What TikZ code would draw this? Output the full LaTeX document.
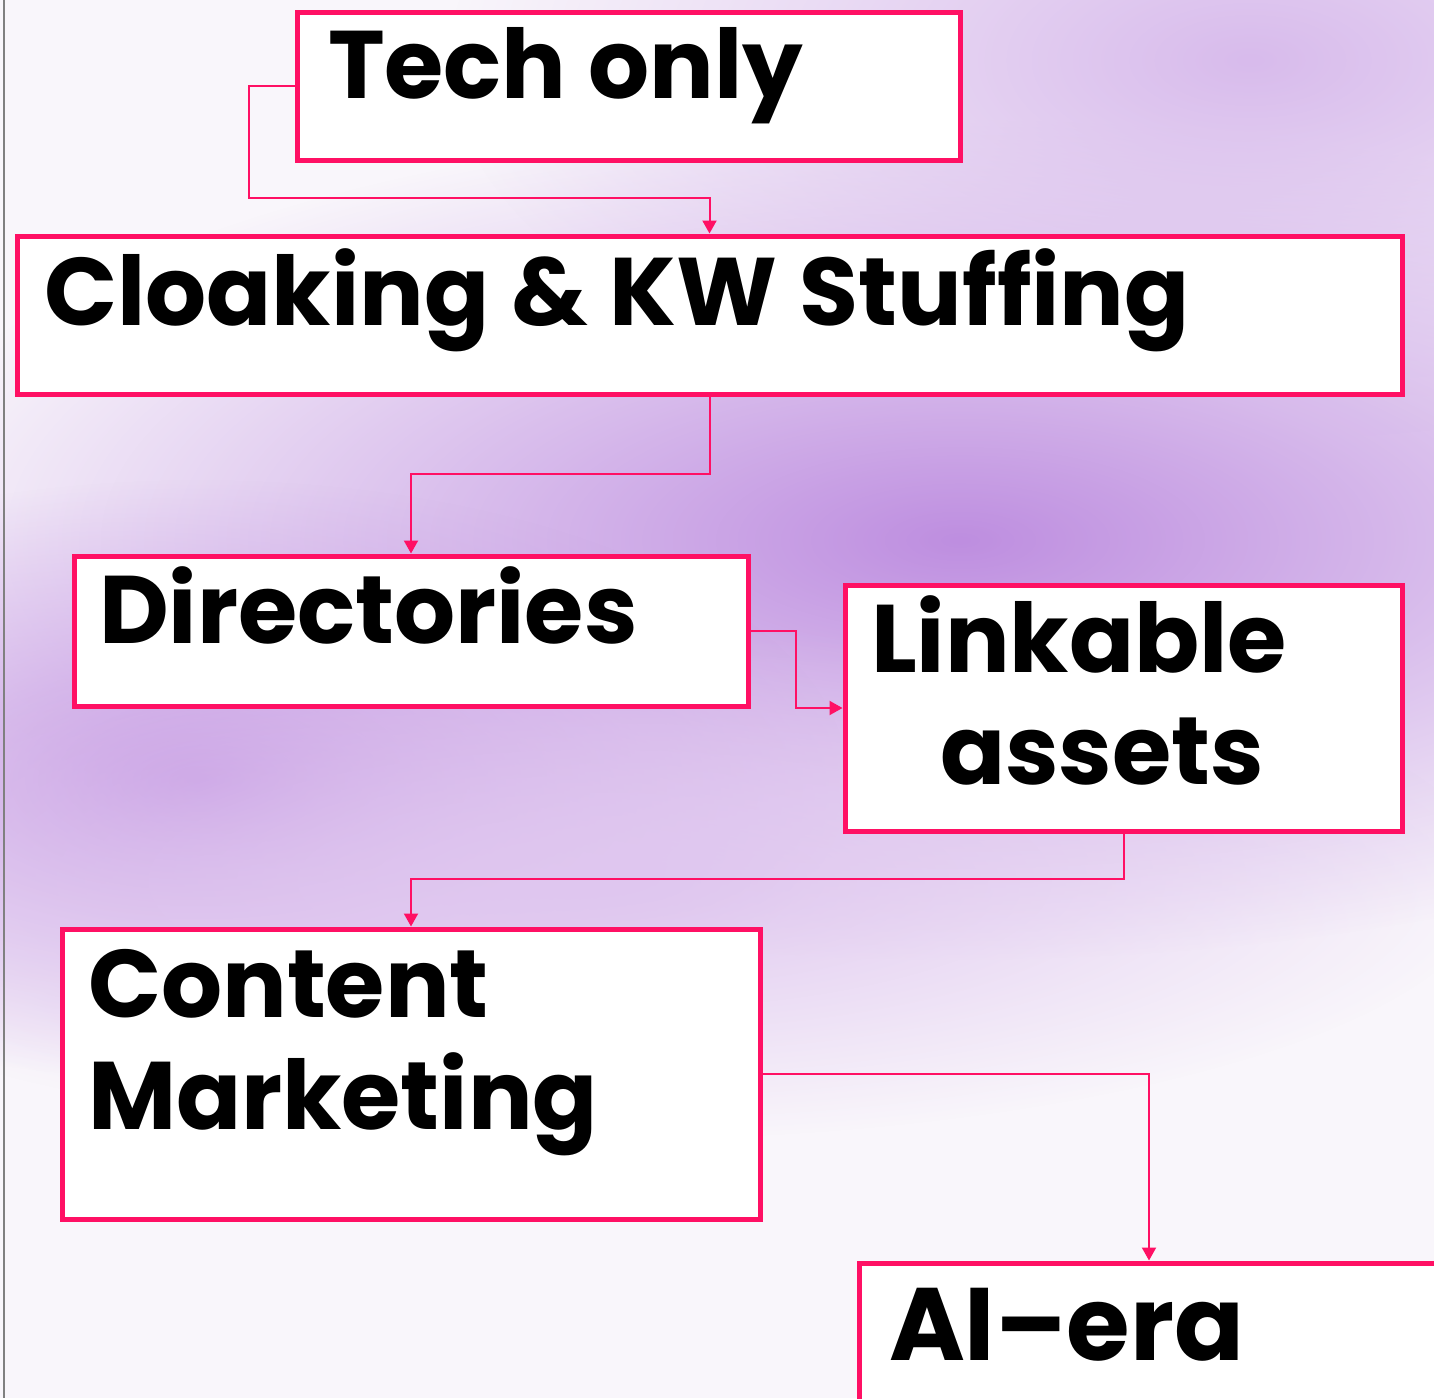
\documentclass[tikz,border=0pt]{standalone}
\usepackage{fontspec}
\setmainfont{Poppins}
\usetikzlibrary{arrows.meta,fadings}

\definecolor{stagepink}{RGB}{255,16,100}
\definecolor{haze}{RGB}{249,246,251}
\definecolor{lilac}{RGB}{190,142,224}

\tikzfading[name=blob, inner color=transparent!0, outer color=transparent!100]

\newcommand\stagefont{\fontsize{96}{112}\selectfont\bfseries}
% tighter word gaps
\newcommand\snug{\hspace{-10pt}}

\tikzset{
  stage/.style={draw=stagepink, line width=5pt, fill=white, anchor=north west,
    outer sep=0pt, inner ysep=0pt, align=left, font=\stagefont},
  flow/.style={draw=stagepink, line width=2pt, shorten >=2.5pt,
    -{Triangle[length=13pt,width=14pt]}}
}

\begin{document}
\begin{tikzpicture}[x=1pt,y=-1pt]
\useasboundingbox (0,0) rectangle (1434,1398);

% background haze
\begin{scope}
\clip (0,0) rectangle (1434,1398);
\fill[haze] (0,0) rectangle (1434,1398);
\fill[lilac, path fading=blob] (960,540) ellipse (1100 and 420);
\fill[lilac!90, path fading=blob] (200,780) ellipse (650 and 300);
\fill[lilac!60, path fading=blob] (1250,60) ellipse (800 and 380);
\fill[lilac!50, path fading=blob] (600,880) ellipse (900 and 260);
\end{scope}
\draw[gray, line width=1.5pt] (4,0) -- (4,1398);

% the stages
\node[stage, inner xsep=31pt, text width=601pt, text height=86pt, text depth=62pt]
  (tech) at (297,12) {Tech\snug{} only};
\node[stage, inner xsep=27pt, text width=1331pt, text height=89pt, text depth=69pt]
  (cloak) at (17,236) {Cloaking\snug{} \&\snug{} KW\snug{} Stuffing};
\node[stage, inner xsep=25pt, text width=624pt, text height=87pt, text depth=63pt]
  (dir) at (74,556) {Directories};
\node[stage, inner xsep=26pt, text width=505pt, text height=87pt, text depth=159pt]
  (link) at (845,585) {Linkable\\\hspace*{69pt}assets};
\node[stage, inner xsep=26pt, text width=646pt, text height=88pt, text depth=202pt]
  (content) at (62,929) {Content\\Marketing};
\node[stage, inner xsep=30pt, text width=520pt, text height=97pt, text depth=63pt,
  font=\fontsize{103}{112}\selectfont\bfseries]
  (ai) at (859,1263) {AI--era};

% connectors
\coordinate (bend1) at (249,198);
\draw[flow] (tech.west) -| (bend1) -| (cloak.north);
\draw[flow] (cloak.south) -- ++(0,80) -| (dir.north);
\draw[flow] (dir.east) -- ++(48,0) |- (link.west);
\draw[flow] (link.south) -- ++(0,48) -| (content.north);
\draw[flow] (content.east) -| (ai.north);
\end{tikzpicture}
\end{document}
